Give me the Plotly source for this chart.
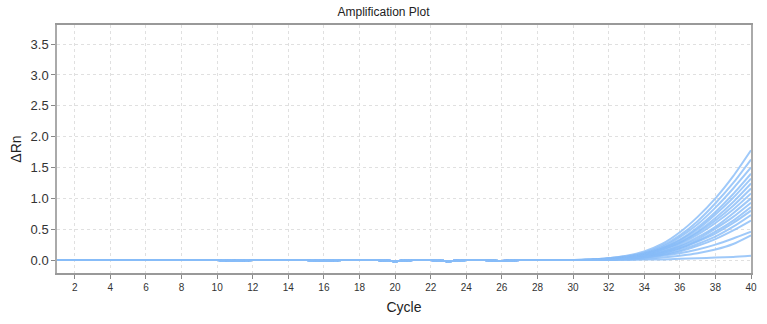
import plotly.graph_objects as go

cycles = list(range(1, 41))
cycles_tick = list(range(2, 41, 2))
y_ticks = [0.0, 0.5, 1.0, 1.5, 2.0, 2.5, 3.0, 3.5]

# shared baseline (cycles 1..30)
baseline = [0, 0, 0, 0, 0, 0, 0, 0, 0, 0,
            -0.01, 0, 0, 0, 0, -0.01, 0, 0, 0, -0.02,
            0, 0, -0.02, 0, 0, -0.015, 0, 0, 0, 0]

# cycles 31..40 per well
tail_01 = [0.01, 0.03, 0.07, 0.14, 0.26, 0.45, 0.70, 1.00, 1.36, 1.78]
tail_02 = [0.01, 0.03, 0.06, 0.12, 0.23, 0.40, 0.63, 0.92, 1.25, 1.63]
tail_03 = [0.01, 0.02, 0.05, 0.11, 0.21, 0.37, 0.58, 0.85, 1.16, 1.50]
tail_04 = [0.01, 0.02, 0.05, 0.10, 0.19, 0.33, 0.53, 0.78, 1.07, 1.40]
tail_05 = [0.00, 0.02, 0.05, 0.10, 0.19, 0.32, 0.50, 0.74, 1.01, 1.32]
tail_06 = [0.00, 0.02, 0.04, 0.09, 0.17, 0.29, 0.46, 0.68, 0.94, 1.24]
tail_07 = [0.00, 0.02, 0.04, 0.09, 0.17, 0.28, 0.44, 0.64, 0.88, 1.16]
tail_08 = [0.00, 0.01, 0.04, 0.08, 0.15, 0.26, 0.41, 0.60, 0.82, 1.08]
tail_09 = [0.00, 0.01, 0.03, 0.07, 0.13, 0.23, 0.37, 0.54, 0.76, 1.00]
tail_10 = [0.00, 0.01, 0.03, 0.07, 0.13, 0.22, 0.34, 0.51, 0.70, 0.93]
tail_11 = [0.00, 0.01, 0.03, 0.06, 0.11, 0.19, 0.31, 0.46, 0.64, 0.86]
tail_12 = [0.00, 0.01, 0.03, 0.06, 0.11, 0.19, 0.30, 0.43, 0.60, 0.80]
tail_13 = [0.00, 0.01, 0.02, 0.05, 0.09, 0.16, 0.26, 0.38, 0.54, 0.73]
tail_14 = [0.00, 0.01, 0.02, 0.04, 0.08, 0.14, 0.23, 0.34, 0.48, 0.64]
tail_15 = [0.00, 0.01, 0.02, 0.04, 0.07, 0.11, 0.17, 0.25, 0.35, 0.46]
tail_16 = [0.00, 0.00, 0.01, 0.02, 0.04, 0.07, 0.11, 0.17, 0.26, 0.40]
tail_17 = [0.00, 0.00, 0.00, 0.01, 0.01, 0.02, 0.03, 0.04, 0.05, 0.07]

tails = [tail_01, tail_02, tail_03, tail_04, tail_05, tail_06, tail_07, tail_08, tail_09,
         tail_10, tail_11, tail_12, tail_13, tail_14, tail_15, tail_16, tail_17]

fig = go.Figure()
for t in tails:
    fig.add_trace(go.Scatter(
        x=cycles, y=baseline + t, mode="lines",
        line=dict(color="rgba(135,187,248,0.8)", width=2, shape="spline", smoothing=0.6),
        showlegend=False, hoverinfo="skip"))

fnt = "Liberation Sans, Arial, sans-serif"
fig.update_layout(
    width=767, height=324,
    margin=dict(l=57, r=10, t=25, b=51),
    paper_bgcolor="white", plot_bgcolor="white",
    font=dict(family=fnt, color="#222"),
    title=dict(text="Amplification Plot", x=0.5, xanchor="center", y=0.963, yanchor="middle",
               font=dict(size=12, color="#222", family=fnt)),
    xaxis=dict(range=[1, 40], tickvals=cycles_tick, ticks="outside", ticklen=4, tickcolor="#888",
               showgrid=True, gridcolor="#e0e0e0", griddash="3px,3px", gridwidth=1,
               showline=True, linecolor="#999", linewidth=1.5, mirror=True,
               zeroline=False, tickfont=dict(size=10, color="#333"),
               title=dict(text="Cycle", font=dict(size=14, color="#222"), standoff=10)),
    yaxis=dict(range=[-0.21, 3.81], tickvals=y_ticks, tickformat=".1f", ticks="outside", ticklen=4,
               tickcolor="#888", showgrid=True, gridcolor="#e0e0e0", griddash="3px,3px", gridwidth=1,
               showline=True, linecolor="#aaa", linewidth=1.5, mirror=True,
               zeroline=False, tickfont=dict(size=13, color="#333"),
               title=dict(text="ΔRn", font=dict(size=14, color="#222"), standoff=6)),
)
fig.write_html("out.html")
